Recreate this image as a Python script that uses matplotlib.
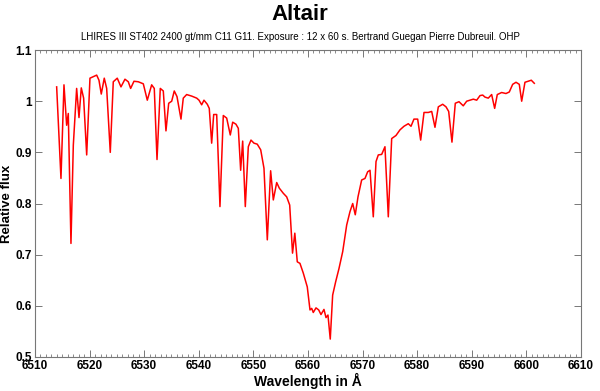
import numpy as np
import matplotlib
matplotlib.use("Agg")
import matplotlib.pyplot as plt
from matplotlib.ticker import MultipleLocator, FuncFormatter

plt.rcParams["font.family"] = ["Liberation Sans", "DejaVu Sans"]

# Spectrum (wavelength in Angstrom, relative flux)
wavelength = [
    6513.97, 6514.76, 6515.31, 6515.80, 6516.10, 6516.59, 6517.02, 6517.63,
    6518.06, 6518.48, 6518.91, 6519.47, 6520.07, 6520.68, 6521.30, 6521.72,
    6522.14, 6522.69, 6523.13, 6523.79, 6524.34, 6525.07, 6525.75, 6526.48,
    6527.09, 6527.52, 6528.13, 6528.92, 6529.84, 6530.57, 6531.37, 6531.85,
    6532.35, 6532.95, 6533.50, 6533.99, 6534.49, 6535.04, 6535.51, 6536.01,
    6536.74, 6537.16, 6537.78, 6538.70, 6539.62, 6540.04, 6540.53, 6540.95,
    6541.56, 6541.92, 6542.36, 6542.73, 6543.28, 6543.88, 6544.49, 6545.11,
    6545.77, 6546.21, 6546.81, 6547.24, 6547.67, 6548.04, 6548.52, 6549.07,
    6549.56, 6550.11, 6550.71, 6551.34, 6551.94, 6552.55, 6553.16, 6553.65,
    6554.27, 6554.75, 6555.48, 6556.10, 6556.65, 6557.17, 6557.59, 6558.04,
    6558.53, 6559.14, 6559.87, 6560.37, 6560.68, 6560.97, 6561.47, 6561.96,
    6562.38, 6562.93, 6563.30, 6563.66, 6564.08, 6564.52, 6565.07, 6565.68,
    6566.36, 6567.09, 6567.69, 6568.19, 6568.66, 6569.16, 6569.83, 6570.44,
    6570.93, 6571.36, 6571.96, 6572.46, 6572.88, 6573.50, 6574.10, 6574.71,
    6575.33, 6576.12, 6576.85, 6577.58, 6578.37, 6578.87, 6579.41, 6580.09,
    6580.64, 6581.25, 6582.03, 6582.66, 6583.26, 6583.87, 6584.67, 6585.28,
    6585.77, 6586.37, 6586.98, 6587.66, 6588.44, 6589.07, 6589.67, 6590.28,
    6590.90, 6591.51, 6592.00, 6592.42, 6593.02, 6593.64, 6594.19, 6594.67,
    6595.47, 6596.26, 6596.87, 6597.49, 6598.10, 6598.70, 6599.14, 6599.74,
    6600.35, 6600.90, 6601.45,
]
flux = [
    1.028, 0.849, 1.032, 0.953, 0.976, 0.722, 0.914, 1.025,
    0.968, 1.026, 1.006, 0.895, 1.045, 1.048, 1.051, 1.041,
    1.014, 1.045, 1.025, 0.900, 1.038, 1.045, 1.028, 1.043,
    1.038, 1.025, 1.039, 1.038, 1.034, 1.002, 1.032, 1.025,
    0.886, 1.025, 1.020, 0.942, 0.996, 1.000, 1.020, 1.009,
    0.965, 1.006, 1.013, 1.010, 1.006, 1.002, 0.993, 1.002,
    0.994, 0.986, 0.918, 0.974, 0.974, 0.794, 0.972, 0.967,
    0.934, 0.959, 0.955, 0.947, 0.865, 0.922, 0.794, 0.911,
    0.924, 0.918, 0.916, 0.905, 0.869, 0.729, 0.864, 0.807,
    0.841, 0.830, 0.820, 0.813, 0.797, 0.703, 0.742, 0.686,
    0.683, 0.664, 0.637, 0.592, 0.595, 0.587, 0.596, 0.592,
    0.583, 0.593, 0.577, 0.582, 0.535, 0.621, 0.647, 0.673,
    0.706, 0.758, 0.784, 0.800, 0.778, 0.813, 0.846, 0.849,
    0.862, 0.865, 0.774, 0.882, 0.895, 0.896, 0.911, 0.774,
    0.927, 0.933, 0.944, 0.951, 0.956, 0.951, 0.965, 0.965,
    0.924, 0.978, 0.978, 0.980, 0.949, 0.989, 0.994, 0.989,
    0.980, 0.920, 0.996, 0.999, 0.991, 1.000, 1.002, 1.004,
    1.002, 1.011, 1.012, 1.008, 1.006, 1.013, 0.986, 1.013,
    1.017, 1.015, 1.018, 1.033, 1.037, 1.033, 1.000, 1.037,
    1.039, 1.041, 1.035,
]

fig = plt.figure(figsize=(6.0, 3.91), dpi=100)
ax = fig.add_axes([0.0583, 0.087, 0.91, 0.785])

ax.plot(wavelength, flux, color="red", linewidth=1.1)

ax.set_xlim(6510, 6610)
ax.set_ylim(0.5, 1.1)
ax.xaxis.set_major_locator(MultipleLocator(10))
ax.xaxis.set_minor_locator(MultipleLocator(1))
ax.yaxis.set_major_locator(MultipleLocator(0.1))
ax.yaxis.set_major_formatter(FuncFormatter(lambda v, p: f"{v:.1f}".rstrip("0").rstrip(".")))

ax.tick_params(which="both", direction="in", top=True, right=True,
               color="#777777", labelsize=8.5)
ax.tick_params(which="major", length=5, width=0.7, pad=2)
ax.tick_params(which="minor", length=2.5, width=0.6)
for lab in ax.get_xticklabels() + ax.get_yticklabels():
    lab.set_fontweight("bold")
for sp in ax.spines.values():
    sp.set_color("#777777")
    sp.set_linewidth(0.8)

ax.set_xlabel("Wavelength in Å", fontsize=10, fontweight="bold", labelpad=1)
ax.set_ylabel("Relative flux", fontsize=9.5, fontweight="bold")
ax.yaxis.set_label_coords(-0.040, 0.5)

fig.text(0.5, 0.963, "Altair", ha="center", va="center",
         fontsize=16, fontweight="bold")
fig.text(0.5, 0.905, "LHIRES III ST402 2400 gt/mm C11 G11. Exposure : 12 x 60 s. "
         "Bertrand Guegan Pierre Dubreuil. OHP",
         ha="center", va="center", fontsize=7)

fig.savefig("out.png", dpi=100)
